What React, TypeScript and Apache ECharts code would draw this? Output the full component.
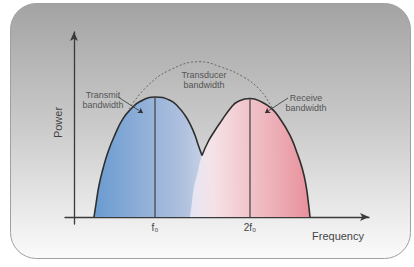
import React, { useEffect, useRef } from "react";
import * as echarts from "echarts";

// Frequency axis range (arbitrary units) and power range
const freqMin = -9;
const freqMax = 295;
const powerMin = -7;
const powerMax = 185;

// Harmonic tick positions and labels
const harmonicValues = [81, 176];
const harmonicLabels = ["f\u2080", "2f\u2080"];

// Transmit band (blue) outline points [frequency, power]
const transmitBand: number[][] = [
  [20, 0], [22.3, 15], [25, 31.7], [29, 48.3], [34, 65], [40.7, 81.7], [49, 98.3],
  [57.3, 108.3], [66, 115.5], [81, 120], [96, 116.7],
  [104.3, 110], [111, 101.7], [116.7, 91.7], [121, 81.7], [124.3, 71.7], [128, 61.5],
  [132, 45], [136, 27], [138.5, 12], [140, 0],
];
const transmitJunctionIndex = 16;

// Receive band (red) outline points
const receiveBand: number[][] = [
  [116, 0], [118, 15], [120, 30], [123, 42], [128, 61.5], [134, 75], [140, 85],
  [146, 94], [157.7, 110.3], [164, 115.5], [176, 118.5], [187.7, 115],
  [197.7, 108.3], [206, 98.3], [216, 81.7], [222.7, 65], [228.3, 48.3], [232, 31.7],
  [234.3, 15], [236, 0],
];
const receiveJunctionIndex = 4;

// Transducer bandwidth (dashed envelope)
const transducerBand: number[][] = [
  [55, 108], [72.7, 130.3], [96, 147], [126, 155.3], [146, 150.3],
  [169, 140.3], [186, 127], [197.7, 110.3], [207, 96],
];

// Centre-frequency markers
const transmitCenter: number[][] = [[81, 0], [81, 120]];
const receiveCenter: number[][] = [[176, 0], [176, 118.5]];

// Annotation leader lines [start, end]
const transmitLeader = [[44, 120], [69, 104]];
const receiveLeader = [[214, 119], [191, 104]];

const FONT = "'Liberation Sans', Arial, sans-serif";
const SMOOTH = 0.5;

export default function App() {
  const ref = useRef<HTMLDivElement>(null);

  useEffect(() => {
    if (!ref.current) return;
    const chart = echarts.init(ref.current, undefined, { renderer: "svg" });

    const option: any = {
      animation: false,
      backgroundColor: "#ffffff",
      grid: { left: 65, right: 45, top: 32, bottom: 43 },
      xAxis: {
        type: "value",
        min: freqMin,
        max: freqMax,
        splitLine: { show: false },
        axisTick: { show: false },
        axisLine: {
          onZero: true,
          symbol: ["none", "arrow"],
          symbolSize: [6, 9],
          lineStyle: { color: "#3a3a3a", width: 1.3 },
        },
        axisLabel: {
          customValues: harmonicValues,
          formatter: (v: number) => harmonicLabels[harmonicValues.indexOf(v)] ?? "",
          color: "#444",
          fontSize: 10,
          fontFamily: FONT,
          margin: -2,
        },
      },
      yAxis: {
        type: "value",
        min: powerMin,
        max: powerMax,
        splitLine: { show: false },
        axisTick: { show: false },
        axisLabel: { show: false },
        axisLine: {
          onZero: true,
          symbol: ["none", "arrow"],
          symbolSize: [6, 9],
          lineStyle: { color: "#3a3a3a", width: 1.3 },
        },
      },
      graphic: [
        {
          type: "rect",
          z: -10,
          silent: true,
          shape: { x: 10.5, y: 3.5, width: 400, height: 255, r: 26 },
          style: {
            fill: new echarts.graphic.LinearGradient(0, 0, 0, 1, [
              { offset: 0, color: "#a3a3a3" },
              { offset: 0.5, color: "#cccccc" },
              { offset: 1, color: "#fbfbfb" },
            ]),
            stroke: "#a0a0a0",
            lineWidth: 1,
          },
        },
        {
          type: "text",
          z: 100,
          x: 57.5,
          y: 122.5,
          rotation: Math.PI / 2,
          style: {
            text: "Power",
            fill: "#444",
            font: `11px ${FONT}`,
            align: "center",
            verticalAlign: "middle",
          },
        },
        {
          type: "text",
          z: 100,
          x: 204,
          y: 80,
          style: {
            text: "Transducer\nbandwidth",
            fill: "#555",
            font: `9px ${FONT}`,
            align: "center",
            verticalAlign: "middle",
            lineHeight: 10,
          },
        },
        {
          type: "text",
          z: 100,
          x: 103,
          y: 100,
          style: {
            text: "Transmit\nbandwidth",
            fill: "#555",
            font: `9px ${FONT}`,
            align: "center",
            verticalAlign: "middle",
            lineHeight: 10,
          },
        },
        {
          type: "text",
          z: 100,
          x: 306,
          y: 103,
          style: {
            text: "Receive\nbandwidth",
            fill: "#555",
            font: `9px ${FONT}`,
            align: "center",
            verticalAlign: "middle",
            lineHeight: 10,
          },
        },
        {
          type: "text",
          z: 100,
          x: 338,
          y: 236,
          style: {
            text: "Frequency",
            fill: "#444",
            font: `11px ${FONT}`,
            align: "center",
            verticalAlign: "middle",
          },
        },
      ],
      series: [
        {
          name: "Transducer bandwidth",
          type: "line",
          z: 1,
          data: transducerBand,
          smooth: 0.45,
          showSymbol: false,
          silent: true,
          lineStyle: { color: "#666", width: 1, type: [2, 2] },
        },
        {
          name: "Transmit fill",
          type: "line",
          z: 2,
          data: transmitBand,
          smooth: SMOOTH,
          showSymbol: false,
          silent: true,
          lineStyle: { width: 0 },
          areaStyle: {
            opacity: 1,
            color: new echarts.graphic.LinearGradient(0, 0, 1, 0, [
              { offset: 0, color: "#6a9bd0" },
              { offset: 0.75, color: "#afc1de" },
              { offset: 1, color: "#d4daec" },
            ]),
          },
        },
        {
          name: "Receive fill",
          type: "line",
          z: 3,
          data: receiveBand,
          smooth: SMOOTH,
          showSymbol: false,
          silent: true,
          lineStyle: { width: 0 },
          areaStyle: {
            opacity: 1,
            color: new echarts.graphic.LinearGradient(0, 0, 1, 0, [
              { offset: 0, color: "rgba(238,236,248,0.8)" },
              { offset: 0.2, color: "rgba(246,226,230,0.97)" },
              { offset: 1, color: "#e8909a" },
            ]),
          },
        },
        {
          name: "Transmit outline",
          type: "line",
          z: 4,
          data: transmitBand.slice(0, transmitJunctionIndex + 1),
          smooth: SMOOTH,
          showSymbol: false,
          silent: true,
          lineStyle: { color: "#2e2e2e", width: 1.6 },
        },
        {
          name: "Receive outline",
          type: "line",
          z: 4,
          data: receiveBand.slice(receiveJunctionIndex),
          smooth: SMOOTH,
          showSymbol: false,
          silent: true,
          lineStyle: { color: "#2e2e2e", width: 1.6 },
          markLine: {
            silent: true,
            symbol: ["none", "arrow"],
            symbolSize: 5,
            label: { show: false },
            lineStyle: { color: "#333", width: 0.8, type: "solid" },
            data: [
              [{ coord: transmitLeader[0] }, { coord: transmitLeader[1] }],
              [{ coord: receiveLeader[0] }, { coord: receiveLeader[1] }],
            ],
          },
        },
        {
          name: "f0",
          type: "line",
          z: 4,
          data: transmitCenter,
          showSymbol: false,
          silent: true,
          lineStyle: { color: "#4a4a4a", width: 1.3 },
        },
        {
          name: "2f0",
          type: "line",
          z: 4,
          data: receiveCenter,
          showSymbol: false,
          silent: true,
          lineStyle: { color: "#4a4a4a", width: 1.3 },
        },
      ],
    };

    chart.setOption(option);
    return () => chart.dispose();
  }, []);

  return (
    <div
      ref={ref}
      style={{ position: "absolute", left: 0, top: 0, width: 414, height: 267 }}
    />
  );
}
